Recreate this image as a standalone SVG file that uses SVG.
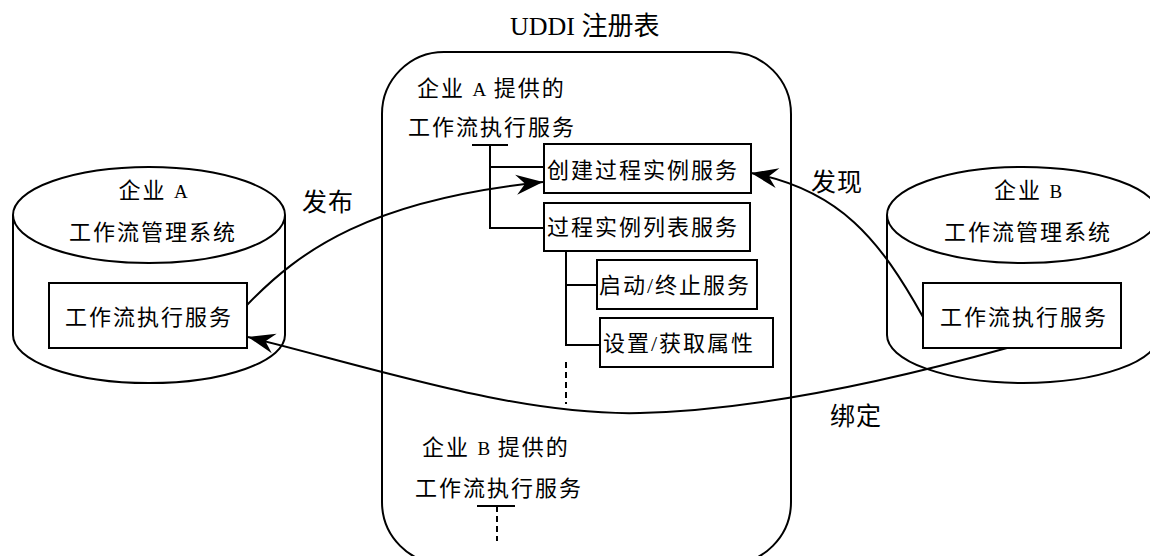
<svg xmlns="http://www.w3.org/2000/svg" width="1150" height="556" viewBox="0 0 1150 556">
<style>
  .ln { fill: none; stroke: #000; stroke-width: 2; }
  .box { fill: #fff; stroke: #000; stroke-width: 2; }
  .dash { fill: none; stroke: #000; stroke-width: 2; stroke-dasharray: 6 4; }
  .t { font-family: "Liberation Serif", "Noto Sans CJK SC", serif; font-size: 22px; letter-spacing: 2px; fill: #000; }
  .lat { font-size: 19px; letter-spacing: 0; }
  .lbl { font-family: "Liberation Serif", "Noto Sans CJK SC", serif; font-size: 25px; letter-spacing: 1px; fill: #000; }
  .title { font-family: "Liberation Serif", "Noto Sans CJK SC", serif; font-size: 26px; fill: #000; }
</style>
<defs>
  <marker id="arr" markerUnits="userSpaceOnUse" markerWidth="32" markerHeight="24" viewBox="-30 -12 32 24" refX="0" refY="0" orient="auto">
    <path d="M0,0 L-27,-10 L-18,0 L-27,10 Z" fill="#000"/>
  </marker>
</defs>

<text class="title" x="510" y="35">UDDI 注册表</text>

<g id="uddi">
  <rect class="ln" x="382" y="52" width="409" height="512" rx="62" ry="62"/>
  <text class="t" x="417" y="96">企业 <tspan class="lat">A</tspan> 提供的</text>
  <text class="t" x="408" y="135">工作流执行服务</text>
  <text class="t" x="422" y="455">企业 <tspan class="lat">B</tspan> 提供的</text>
  <text class="t" x="415" y="496">工作流执行服务</text>
</g>

<g id="tree">
  <path class="ln" d="M472,145 H508 M490,145 V228 H544 M490,167 H544"/>
  <path class="ln" d="M566,251 V345 H600 M566,285 H597"/>
  <path class="dash" d="M566,362 V404"/>
  <path class="ln" d="M477,506 H515"/>
  <path class="dash" d="M497,506 V541"/>
</g>

<g id="create">
  <rect class="box" x="544" y="144" width="207" height="49"/>
  <text class="t" x="547" y="178">创建过程实例服务</text>
</g>
<g id="list">
  <rect class="box" x="544" y="203" width="206" height="48"/>
  <text class="t" x="547" y="235">过程实例列表服务</text>
</g>
<g id="startstop">
  <rect class="box" x="597" y="260" width="160" height="49"/>
  <text class="t" x="599" y="293">启动/终止服务</text>
</g>
<g id="props">
  <rect class="box" x="600" y="318" width="173" height="49"/>
  <text class="t" x="603" y="351">设置/获取属性</text>
</g>

<g id="entA">
  <path class="ln" d="M13,215 V335 A136,48 0 0 0 285,335 V215"/>
  <ellipse class="ln" cx="149" cy="215" rx="136" ry="48"/>
  <text class="t" x="153" y="198" text-anchor="middle">企业 <tspan class="lat">A</tspan></text>
  <text class="t" x="153" y="240" text-anchor="middle">工作流管理系统</text>
  <rect class="box" x="49" y="283" width="198" height="65"/>
  <text class="t" x="149" y="325" text-anchor="middle">工作流执行服务</text>
</g>

<g id="entB">
  <path class="ln" d="M887,215 V335 A136,48 0 0 0 1159,335 V215"/>
  <ellipse class="ln" cx="1023" cy="215" rx="136" ry="48"/>
  <text class="t" x="1028" y="198" text-anchor="middle">企业 <tspan class="lat">B</tspan></text>
  <text class="t" x="1028" y="240" text-anchor="middle">工作流管理系统</text>
  <rect class="box" x="923" y="283" width="198" height="65"/>
  <text class="t" x="1024" y="325" text-anchor="middle">工作流执行服务</text>
</g>

<g id="connectors">
  <path class="ln" d="M247,305 C300,250 370,200 543,182" marker-end="url(#arr)"/>
  <path class="ln" d="M923,317 C880,240 840,190 751,173" marker-end="url(#arr)"/>
  <path class="ln" d="M1007,348 C900,378 760,410 640,413 C520,416 380,370 248,337" marker-end="url(#arr)"/>
  <text class="lbl" x="302" y="211">发布</text>
  <text class="lbl" x="811" y="191">发现</text>
  <text class="lbl" x="830" y="425">绑定</text>
</g>
</svg>
